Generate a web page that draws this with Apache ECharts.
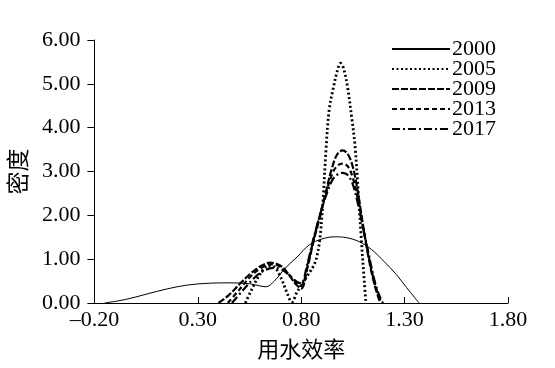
<!DOCTYPE html>
<html>
<head>
<meta charset="utf-8">
<script src="https://cdn.jsdelivr.net/npm/echarts@6/dist/echarts.min.js"></script>
<style>
html,body{margin:0;padding:0;background:#fff;}
#chart{width:555px;height:368px;}
</style>
</head>
<body>
<div id="chart"></div>
<script>
// Categories / tick labels
var xTicks = [-0.20, 0.30, 0.80, 1.30, 1.80];
var yTicks = [0, 1, 2, 3, 4, 5, 6];
var seriesNames = ['2000', '2005', '2009', '2013', '2017'];

// Density curves [x, density]
var d2000 = [[-0.15,0],[-0.05,0.08],[0.05,0.2],[0.15,0.32],[0.25,0.41],[0.35,0.45],[0.45,0.46],[0.55,0.44],[0.60,0.39],[0.63,0.37],[0.67,0.5],[0.72,0.78],[0.78,1.05],[0.84,1.33],[0.90,1.46],[0.96,1.51],[1.02,1.49],[1.08,1.40],[1.14,1.22],[1.20,0.95],[1.26,0.65],[1.31,0.35],[1.37,0]];
var d2005 = [[0.53,0],[0.56,0.3],[0.60,0.65],[0.64,0.85],[0.67,0.82],[0.70,0.6],[0.73,0.25],[0.755,0.02],[0.78,0.25],[0.82,0.55],[0.86,0.85],[0.875,1.05],[0.89,1.45],[0.905,2.3],[0.92,3.5],[0.935,4.4],[0.955,4.9],[0.975,5.3],[0.99,5.47],[1.005,5.35],[1.025,4.9],[1.045,4.2],[1.06,3.6],[1.075,2.6],[1.09,1.5],[1.105,0.5],[1.113,0]];
var d2009 = [[0.40,0],[0.45,0.18],[0.50,0.42],[0.55,0.65],[0.60,0.83],[0.65,0.92],[0.70,0.85],[0.74,0.65],[0.77,0.45],[0.80,0.33],[0.83,0.8],[0.86,1.42],[0.89,1.95],[0.92,2.55],[0.95,3.1],[0.975,3.4],[1.0,3.48],[1.025,3.4],[1.05,3.1],[1.075,2.5],[1.10,1.75],[1.125,1.05],[1.15,0.5],[1.175,0.1],[1.185,0]];
var d2013 = [[0.445,0],[0.50,0.3],[0.55,0.58],[0.60,0.78],[0.65,0.88],[0.69,0.85],[0.73,0.7],[0.77,0.5],[0.80,0.4],[0.83,0.85],[0.86,1.45],[0.89,2.0],[0.92,2.5],[0.95,2.95],[0.975,3.13],[1.0,3.18],[1.025,3.12],[1.05,2.85],[1.075,2.35],[1.10,1.7],[1.125,1.1],[1.15,0.55],[1.175,0.15],[1.19,0]];
var d2017 = [[0.465,0],[0.52,0.3],[0.57,0.56],[0.62,0.74],[0.67,0.8],[0.71,0.75],[0.75,0.6],[0.78,0.48],[0.80,0.45],[0.83,0.9],[0.86,1.48],[0.89,2.0],[0.92,2.45],[0.95,2.8],[0.975,2.93],[1.0,2.97],[1.025,2.92],[1.05,2.7],[1.075,2.25],[1.10,1.7],[1.125,1.15],[1.15,0.6],[1.175,0.2],[1.195,0]];

var serif = '"Liberation Serif","Noto Sans CJK SC",serif';
var chart = echarts.init(document.getElementById('chart'), null, {renderer:'canvas'});

function mk(name, data, width, type) {
  return {
    name: name, type: 'line', data: data, smooth: 0.35, symbol: 'none',
    lineStyle: {color: '#000', width: width, type: type},
    itemStyle: {color: '#000'}
  };
}

chart.setOption({
  animation: false,
  backgroundColor: '#fff',
  grid: {left: 86.5, right: 47, top: 40, bottom: 65, containLabel: false},
  legend: {
    data: seriesNames, orient: 'vertical', left: 386, top: 33,
    itemWidth: 58, itemHeight: 14, itemGap: -2,
    itemStyle: {opacity: 0},
    textStyle: {fontFamily: serif, fontSize: 22, color: '#000', padding: [0,0,0,-3]}
  },
  xAxis: {
    type: 'value', min: xTicks[0], max: xTicks[xTicks.length-1], interval: 0.5,
    name: '用水效率', nameLocation: 'middle', nameGap: 37,
    nameTextStyle: {fontFamily: serif, fontSize: 22, color: '#000'},
    axisLine: {lineStyle: {color: '#000', width: 1}},
    axisTick: {inside: true, length: 6, lineStyle: {color: '#000'}},
    axisLabel: {color: '#000', fontFamily: serif, fontSize: 22, margin: 6,
      formatter: function(v){ return (Math.abs(v) < 1e-9 ? 0 : v).toFixed(2).replace('-', '\u2013'); }},
    splitLine: {show: false}
  },
  yAxis: {
    type: 'value', min: yTicks[0], max: yTicks[yTicks.length-1], interval: 1,
    name: '密度', nameLocation: 'middle', nameGap: 50, nameRotate: 90,
    nameTextStyle: {fontFamily: serif, fontSize: 23, color: '#000'},
    axisLine: {show: true, onZero: false, lineStyle: {color: '#000', width: 1}},
    axisTick: {show: true, inside: false, length: 7, lineStyle: {color: '#000'}},
    axisLabel: {color: '#000', fontFamily: serif, fontSize: 22, margin: 14,
      formatter: function(v){ return v.toFixed(2); }},
    splitLine: {show: false}
  },
  series: [
    mk('2000', d2000, 1, 'solid'),
    mk('2005', d2005, 2.8, [2, 2.5]),
    mk('2009', d2009, 2.2, [7, 2]),
    mk('2013', d2013, 2.2, [5, 3]),
    mk('2017', d2017, 2.2, [8, 3, 2, 3])
  ]
});
</script>
</body>
</html>
